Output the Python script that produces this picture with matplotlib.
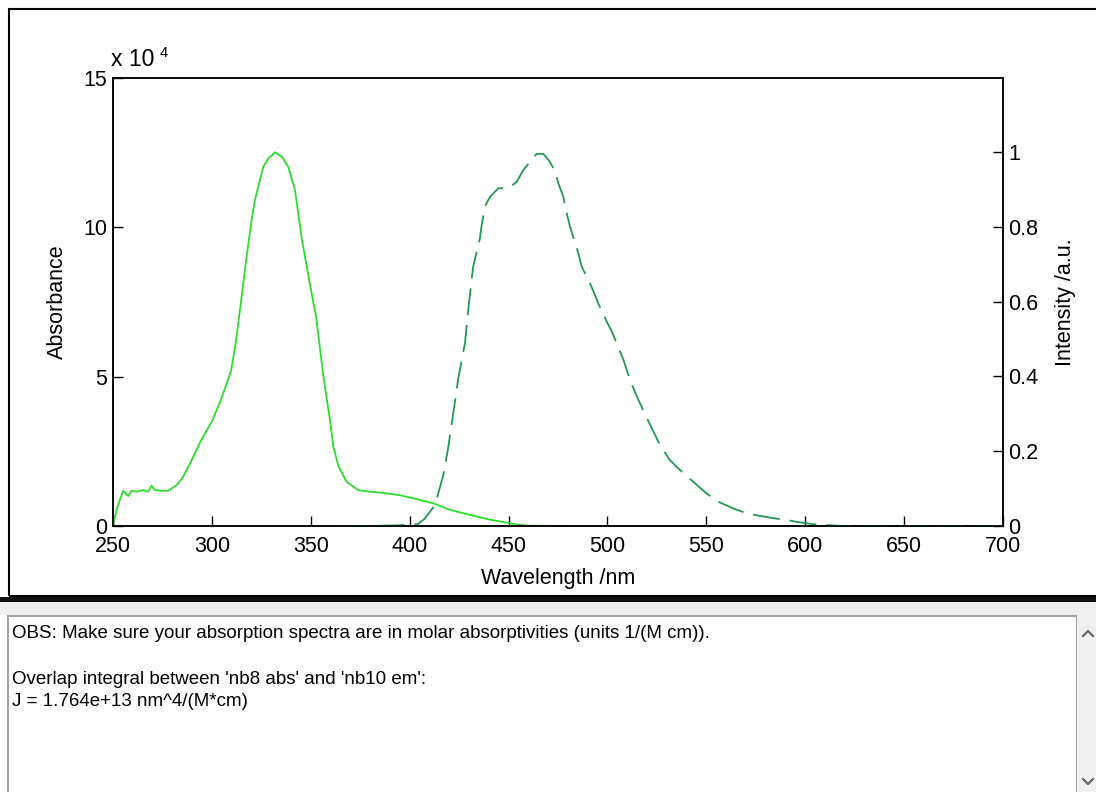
import matplotlib
matplotlib.use('Agg')
import matplotlib.pyplot as plt
from matplotlib.patches import Rectangle
from matplotlib.lines import Line2D

plt.rcParams['font.family'] = ['Liberation Sans', 'DejaVu Sans']

# absorbance spectrum 'nb8 abs' (units of 1e4 1/(M cm))
abs_wl = [250, 252, 255.2, 257.7, 259.4, 262, 265, 267.8, 269.5, 271.2, 275, 278,
          282.2, 285, 289, 294, 297.4, 300, 305, 309.7, 312, 314.7, 317.5, 320, 321.7,
          325.1, 326, 328.5, 331.9, 335.3, 338.6, 342, 345.4, 349, 352.7, 356.4,
          359.7, 361.4, 364, 368.1, 374, 379.9, 386.6, 395, 401.8, 406, 411.9,
          420.4, 430, 440, 450, 455, 460, 480, 500, 550, 600, 650, 700]
abs_val = [0.0, 0.6, 1.18, 1.0, 1.18, 1.15, 1.2, 1.15, 1.35, 1.2, 1.18, 1.18,
           1.37, 1.6, 2.1, 2.8, 3.2, 3.5, 4.3, 5.2, 6.1, 7.5, 9.0, 10.2, 10.9,
           11.8, 12.03, 12.3, 12.51, 12.37, 12.03, 11.25, 9.64, 8.3, 7.0, 5.0,
           3.55, 2.66, 2.0, 1.48, 1.2, 1.15, 1.11, 1.03, 0.93, 0.86, 0.76,
           0.54, 0.38, 0.22, 0.1, 0.04, 0.01, 0.0, 0.0, 0.0, 0.0, 0.0, 0.0]

# emission spectrum 'nb10 em' (normalised)
em_wl = [365, 380, 395, 404, 407.7, 412.8, 417, 419.5, 422, 424.6, 428, 429.6,
         431.3, 432.1, 435.5, 436.3, 438, 440.6, 444.8, 449.9, 454.1, 457.5,
         461.7, 464.2, 467.6, 470.9, 473.5, 475.2, 477.7, 479.4, 481.1, 485.3,
         487, 491.2, 495.4, 499.7, 502.2, 508.1, 511.4, 515.6, 519.8, 526.5,
         531.6, 535.8, 543.4, 550.1, 556, 563.6, 570.3, 577, 583.8, 590.5, 597,
         604, 612, 619, 640, 660, 680, 700]
em_val = [0.0, 0.0, 0.002, 0.005, 0.02, 0.056, 0.136, 0.21, 0.30, 0.395, 0.49, 0.578,
          0.658, 0.693, 0.769, 0.80, 0.854, 0.88, 0.903, 0.903, 0.92, 0.952,
          0.979, 0.995, 0.995, 0.974, 0.947, 0.916, 0.88, 0.836, 0.80, 0.729,
          0.693, 0.649, 0.595, 0.546, 0.52, 0.444, 0.39, 0.338, 0.29, 0.217,
          0.176, 0.154, 0.118, 0.087, 0.065, 0.047, 0.034, 0.027, 0.021, 0.016, 0.01,
          0.005, 0.002, 0.0, 0.0, 0.0, 0.0, 0.0]

x_ticks = [250, 300, 350, 400, 450, 500, 550, 600, 650, 700]
abs_ticks = [0, 5, 10, 15]
em_ticks = [0, 0.2, 0.4, 0.6, 0.8, 1]
em_labels = ['0', '0.2', '0.4', '0.6', '0.8', '1']

info_lines = ["OBS: Make sure your absorption spectra are in molar absorptivities (units 1/(M cm)).",
              "",
              "Overlap integral between 'nb8 abs' and 'nb10 em':",
              "J = 1.764e+13 nm^4/(M*cm)"]

W, H = 1096, 792
fig = plt.figure(figsize=(W / 100, H / 100), dpi=100)

def fx(x):
    return x / W

def fy(y):
    return 1 - y / H

def rect(x0, y0, x1, y1, **kw):
    fig.add_artist(Rectangle((fx(x0), fy(y1)), fx(x1) - fx(x0), fy(y0) - fy(y1),
                             transform=fig.transFigure, **kw))

fs = 15.5
ax = fig.add_axes([fx(113), fy(526), fx(1003) - fx(113), fy(78) - fy(526)])
ax.plot(abs_wl, abs_val, color='#2ddc2d', lw=1.3)
ax.set_xlim(250, 700)
ax.set_ylim(0, 15)
ax.set_xticks(x_ticks)
ax.set_yticks(abs_ticks)
ax.tick_params(direction='in', length=7, width=1, labelsize=fs)
ax.tick_params(axis='x', pad=7)
ax.tick_params(axis='y', pad=4)
ax.yaxis.set_ticks_position('left')
ax.xaxis.set_ticks_position('bottom')
ax.set_xlabel('Wavelength /nm', fontsize=fs, labelpad=8)
ax.set_ylabel('Absorbance', fontsize=fs, labelpad=11)
for s in ax.spines.values():
    s.set_linewidth(1.1)

ax2 = ax.twinx()
ln, = ax2.plot(em_wl, em_val, color='#229950', lw=1.3)
ln.set_dashes([15, 5.5])
ax2.set_ylim(0, 448 / 374)
ax2.set_yticks(em_ticks)
ax2.set_yticklabels(em_labels)
ax2.tick_params(direction='in', length=7, width=1, labelsize=fs, pad=4)
ax2.set_ylabel('Intensity /a.u.', fontsize=fs, labelpad=12)
for s in ax2.spines.values():
    s.set_linewidth(1.1)

fig.text(fx(111), fy(60), 'x 10', fontsize=16.5, va='center', ha='left')
fig.text(fx(159.5), fy(53), '4', fontsize=10.5, va='center', ha='left')

# panel frame and the info box below
rect(8.5, 8.5, 1110, 596, fill=False, edgecolor='black', lw=1.5)
rect(0, 597, W, 602, facecolor='#111111', edgecolor='none')
rect(0, 602, W, 615, facecolor='#f0f0f0', edgecolor='none')
rect(7.5, 615.5, 1077, 800, facecolor='white', edgecolor='#a0a4aa', lw=1.5)
rect(1077, 615, W, H, facecolor='#f0f0f0', edgecolor='none')
fig.add_artist(Line2D([fx(1083), fx(1088), fx(1093)], [fy(636), fy(631), fy(636)],
                      transform=fig.transFigure, color='#606060', lw=1.5))
fig.add_artist(Line2D([fx(1083), fx(1088), fx(1093)], [fy(779), fy(784), fy(779)],
                      transform=fig.transFigure, color='#606060', lw=1.5))

for i, t in enumerate(info_lines):
    if t:
        fig.text(fx(12), fy(633 + 23 * i), t, fontsize=13.5, va='center', ha='left')

fig.savefig('out.png', dpi=100)
